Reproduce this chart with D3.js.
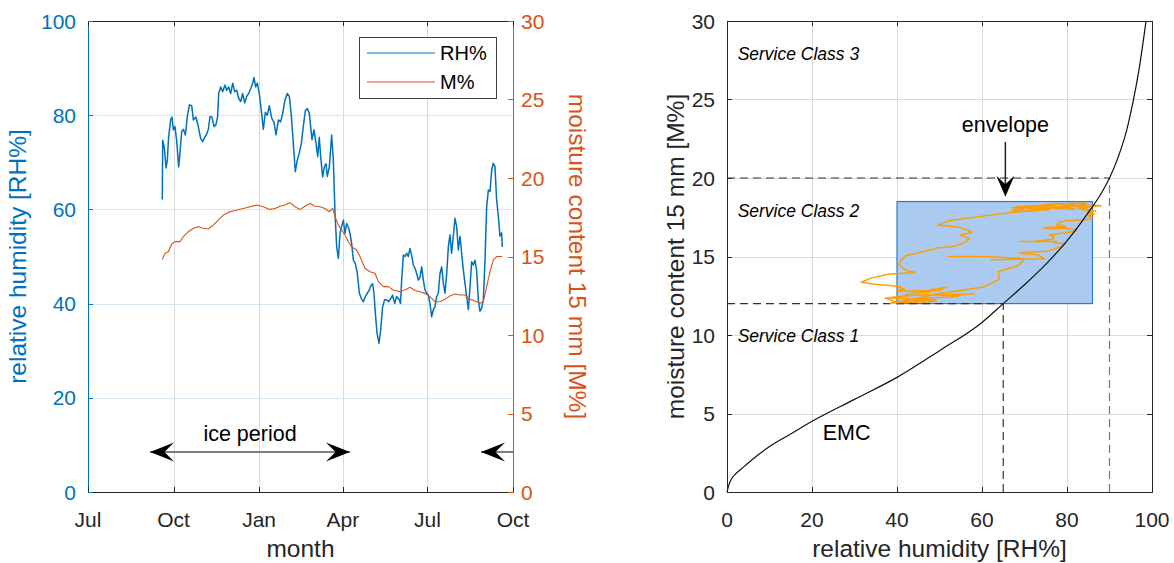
<!DOCTYPE html>
<html><head><meta charset="utf-8">
<script src="https://cdn.jsdelivr.net/npm/d3@7"></script>
<style>
body{margin:0;background:#fff}
svg{display:block}
text{font-family:"Liberation Sans",Arial,Helvetica,sans-serif}
</style>
</head><body>
<svg id="c" width="1174" height="563"></svg>
<script>
// ---------------- DATA ----------------
// days since 1 July (year 1)
const rhDay = [79.9,80.3,82.1,83.9,85.3,86.7,88.9,90.3,91.8,93.5,
95.3,97.5,98.9,100.7,102.5,104.7,106.8,109.0,111.5,113.3,
116.1,118.6,121.1,123.3,125.8,127.6,129.4,131.2,133.3,135.5,
137.6,139.4,140.5,142.7,144.8,147.3,149.1,151.3,153.4,155.6,
157.7,159.9,162.0,164.2,166.3,168.5,170.6,172.8,174.9,177.1,
178.5,180.3,182.1,184.2,186.7,188.5,190.7,192.8,195.0,197.5,
200.0,202.2,204.7,207.2,209.3,211.8,214.3,216.5,218.6,220.8,
222.9,225.1,227.2,229.4,231.5,233.7,235.8,238.0,239.4,240.9,
243.0,245.2,247.0,248.7,250.2,252.3,254.1,255.9,257.3,259.5,
262.0,263.8,265.6,267.4,269.2,271.0,272.8,274.6,276.3,278.1,
280.3,281.7,283.5,285.3,287.5,289.6,291.8,293.9,296.1,298.2,
300.4,302.5,304.3,306.1,307.5,309.0,310.8,312.9,314.7,316.8,
319.0,321.1,323.3,325.5,327.6,329.8,331.9,334.8,336.0,337.3,
339.1,340.9,342.7,344.4,346.2,348.0,349.8,351.6,353.4,355.2,
357.0,358.8,360.6,362.4,364.2,366.0,367.7,369.5,371.3,373.1,
374.9,376.7,378.5,380.3,382.1,383.9,385.7,387.5,389.2,391.0,
392.8,394.6,396.4,398.2,400.0,401.8,403.6,405.4,407.2,409.0,
410.8,412.5,414.3,416.1,417.9,419.7,421.5,423.3,425.1,426.9,
428.7,430.5,432.3,434.1,435.8,437.6,439.4,441.2,443.0,444.8,445.5];
const rhVal = [62.1,74.7,73.0,68.8,70.5,75.4,79.0,79.6,76.9,77.6,
74.7,69.0,72.0,76.5,77.0,75.8,79.7,82.2,82.0,79.0,
79.6,77.6,75.1,74.4,75.4,76.0,77.0,79.7,79.6,77.6,
78.0,79.7,84.6,86.0,85.0,86.4,85.3,86.0,84.6,86.8,
85.0,85.3,83.6,82.9,84.6,82.6,84.0,84.6,85.6,86.8,
88.0,86.0,86.8,84.6,80.4,77.0,80.6,80.0,82.0,79.4,
78.5,75.8,79.0,78.6,80.4,83.2,84.6,84.0,80.0,74.0,
68.0,70.5,72.0,74.0,77.6,81.0,81.4,80.4,77.6,74.8,
76.9,74.0,71.2,75.3,71.2,66.9,69.0,69.7,67.0,69.0,
75.8,70.5,59.2,52.1,49.6,54.9,56.5,57.7,54.9,57.0,
56.0,54.9,52.8,49.3,48.5,46.4,42.2,41.1,40.4,41.5,
42.2,42.9,43.9,44.2,42.2,37.9,33.7,31.6,34.4,39.3,
40.8,40.8,40.4,41.1,41.8,40.0,41.5,40.8,40.0,45.0,
50.3,50.0,50.7,50.0,51.7,50.3,48.2,47.5,46.4,45.0,
45.6,47.8,45.0,42.9,42.2,41.8,40.0,37.2,38.7,39.3,
41.5,42.2,46.4,47.8,44.3,42.2,46.4,52.1,54.6,50.7,
54.3,58.1,56.4,51.4,54.3,50.7,47.1,44.3,41.5,38.7,
43.6,48.9,48.2,49.2,47.1,40.8,38.4,39.0,40.8,49.2,
60.6,64.1,63.8,68.4,69.8,69.1,62.0,58.6,54.3,55.0,52.0];

const mDay = [79.9,82.8,86.4,90.0,93.5,98.9,102.5,107.9,113.3,118.6,
124.0,129.4,134.8,140.1,145.5,152.7,159.9,167.0,174.2,181.4,
188.5,195.7,201.1,206.5,211.8,217.2,222.6,228.0,233.3,238.7,
244.1,249.5,254.8,259.5,263.1,265.6,269.2,272.8,276.3,279.9,
283.5,288.9,292.5,297.8,303.2,308.6,312.2,317.6,322.9,328.3,
334.8,340.9,346.2,351.6,357.0,362.4,367.7,373.1,378.5,383.9,
389.2,394.6,400.0,405.4,410.8,416.1,421.5,425.1,428.7,432.3,
435.8,439.4,445.5];
const mVal = [14.8,15.2,15.3,15.8,15.95,15.95,16.26,16.58,16.8,16.9,
16.8,16.75,17.0,17.32,17.64,17.85,17.96,18.06,18.17,18.28,
18.17,18.0,18.06,18.2,18.28,18.43,18.17,18.0,18.2,18.38,
18.2,18.17,18.06,17.85,18.06,17.54,17.0,16.69,16.37,15.94,
15.62,15.4,14.99,14.25,14.03,13.93,13.4,13.08,13.08,12.87,
12.77,12.87,13.04,12.83,12.76,12.65,12.44,12.12,12.12,12.27,
12.49,12.61,12.55,12.55,12.27,12.17,12.02,12.12,13.08,14.03,
14.78,14.99,15.0];

// ice period arrows (days since 1 July) and height on RH axis
const iceStartDay = 66.7, iceEndDay = 281.7, iceNextDay = 422.6, iceArrowRH = 8.5;

// equilibrium moisture content curve
const emcRH = [0,0.5,1,2,3.5,5,7.5,10,15,20,30,40,50,60,65,70,75,80,85,88,90,92,94,95.5,97,98.6];
const emcM  = [0,0.5,0.8,1.15,1.5,1.85,2.4,2.9,3.7,4.5,5.9,7.3,9.0,10.8,12.0,13.2,14.5,16.0,17.8,19.0,20.0,21.3,23.0,24.8,27.0,30.0];

// envelope box and limits
const envRH = [40, 86], envM = [12, 18.5];
const sc1 = {rh:65, m:12}, sc2 = {rh:90, m:20};

const monthTickLabels = ["Jul","Oct","Jan","Apr","Jul","Oct"];
const rhTicks = [0,20,40,60,80,100];
const mTicks = [0,5,10,15,20,25,30];
const rhTicksR = [0,20,40,60,80,100];

// ---------------- DRAW ----------------
const svg = d3.select("#c");
const BLUE = "#0072BD", ORANGE = "#D95319", AX = "#262626";
const FS_TICK = 21, FS_LAB = 24.5;
const t0 = Date.UTC(2014,6,1);
const toDate = d => new Date(t0 + d*864e5);

// ---- Left chart
const L = {x0:88, x1:513, y0:21, y1:492};
const x1 = d3.scaleUtc().domain([new Date(t0), new Date(Date.UTC(2015,9,1))]).range([L.x0, L.x1]);
const yRH = d3.scaleLinear().domain([0,100]).range([L.y1, L.y0]);
const yM = d3.scaleLinear().domain([0,30]).range([L.y1, L.y0]);
const mTicks3 = x1.ticks(d3.utcMonth.every(3));
const gL = svg.append("g");

// grid
gL.selectAll(".vg").data(mTicks3.slice(1,-1)).enter().append("line")
  .attr("x1", d=>Math.round(x1(d))+0.5).attr("x2", d=>Math.round(x1(d))+0.5).attr("y1", L.y0).attr("y2", L.y1)
  .attr("stroke", "#dadada").attr("stroke-width", 1);
gL.selectAll(".hg").data(rhTicks.slice(1,-1)).enter().append("line")
  .attr("x1", L.x0).attr("x2", L.x1).attr("y1", d=>Math.round(yRH(d))+0.5).attr("y2", d=>Math.round(yRH(d))+0.5)
  .attr("stroke", "#d6e8f5").attr("stroke-width", 1);

// lines
const rhData = rhDay.map((d,i)=>({t:toDate(d), v:rhVal[i]}));
const mData = mDay.map((d,i)=>({t:toDate(d), v:mVal[i]}));
gL.append("path").datum(rhData)
  .attr("d", d3.line().x(d=>x1(d.t)).y(d=>yRH(d.v)))
  .attr("fill","none").attr("stroke", BLUE).attr("stroke-width", 1.5).attr("stroke-linejoin","round");
gL.append("path").datum(mData)
  .attr("d", d3.line().x(d=>x1(d.t)).y(d=>yM(d.v)))
  .attr("fill","none").attr("stroke", ORANGE).attr("stroke-width", 1.1).attr("stroke-linejoin","round");

// axes box
gL.append("line").attr("x1",L.x0).attr("x2",L.x1).attr("y1",L.y0+0.5).attr("y2",L.y0+0.5).attr("stroke",AX);
gL.append("line").attr("x1",L.x0).attr("x2",L.x1).attr("y1",L.y1+0.5).attr("y2",L.y1+0.5).attr("stroke",AX);
gL.append("line").attr("x1",L.x0+0.5).attr("x2",L.x0+0.5).attr("y1",L.y0).attr("y2",L.y1+1).attr("stroke",BLUE);
gL.append("line").attr("x1",L.x1+0.5).attr("x2",L.x1+0.5).attr("y1",L.y0).attr("y2",L.y1+1).attr("stroke",ORANGE);

// x ticks + labels
mTicks3.forEach((d,i)=>{
  const x = Math.round(x1(d))+0.5;
  gL.append("line").attr("x1",x).attr("x2",x).attr("y1",L.y1).attr("y2",L.y1-5).attr("stroke",AX);
  gL.append("line").attr("x1",x).attr("x2",x).attr("y1",L.y0).attr("y2",L.y0+5).attr("stroke",AX);
  gL.append("text").attr("x",x1(d)).attr("y",L.y1+35).attr("text-anchor","middle")
    .attr("font-size",FS_TICK).attr("fill",AX).text(monthTickLabels[i]);
});
// left ticks
rhTicks.forEach(v=>{
  const y = Math.round(yRH(v))+0.5;
  gL.append("line").attr("x1",L.x0).attr("x2",L.x0+5).attr("y1",y).attr("y2",y).attr("stroke",BLUE);
  gL.append("text").attr("x",L.x0-12).attr("y",yRH(v)).attr("dy","0.36em").attr("text-anchor","end")
    .attr("font-size",FS_TICK).attr("fill",BLUE).text(v);
});
// right ticks
mTicks.forEach(v=>{
  const y = Math.round(yM(v))+0.5;
  gL.append("line").attr("x1",L.x1).attr("x2",L.x1-5).attr("y1",y).attr("y2",y).attr("stroke",ORANGE);
  gL.append("text").attr("x",L.x1+8).attr("y",yM(v)).attr("dy","0.36em").attr("text-anchor","start")
    .attr("font-size",FS_TICK).attr("fill",ORANGE).text(v);
});
// axis labels
gL.append("text").attr("x",(L.x0+L.x1)/2).attr("y",557).attr("text-anchor","middle")
  .attr("font-size",FS_LAB).attr("fill",AX).text("month");
gL.append("text").attr("transform",`translate(26,${(L.y0+L.y1)/2}) rotate(-90)`).attr("text-anchor","middle")
  .attr("font-size",FS_LAB).attr("fill",BLUE).text("relative humidity [RH%]");
gL.append("text").attr("transform",`translate(569,${(L.y0+L.y1)/2}) rotate(90)`).attr("text-anchor","middle")
  .attr("font-size",FS_LAB).attr("fill",ORANGE).text("moisture content 15 mm [M%]");

// arrow helper: tip at (x,y), pointing along angle (deg)
function arrowHead(g, x, y, ang, Ln, w){
  g.append("path").attr("d",`M0,0 L${-Ln},${-w} L${-0.6*Ln},0 L${-Ln},${w} Z`)
   .attr("transform",`translate(${x},${y}) rotate(${ang})`).attr("fill","#000");
}
// ice period arrows
const ya = yRH(iceArrowRH);
gL.append("line").attr("x1",x1(toDate(iceStartDay))).attr("x2",x1(toDate(iceEndDay))).attr("y1",ya).attr("y2",ya)
  .attr("stroke","#555").attr("stroke-width",1.5);
arrowHead(gL, x1(toDate(iceStartDay)), ya, 180, 24, 9.5);
arrowHead(gL, x1(toDate(iceEndDay)), ya, 0, 24, 9.5);
gL.append("line").attr("x1",x1(toDate(iceNextDay))).attr("x2",L.x1).attr("y1",ya).attr("y2",ya)
  .attr("stroke","#555").attr("stroke-width",1.5);
arrowHead(gL, x1(toDate(iceNextDay)), ya, 180, 24, 9.5);
gL.append("text").attr("x",x1(toDate((iceStartDay+iceEndDay)/2))).attr("y",yRH(10.9)).attr("text-anchor","middle")
  .attr("font-size",21.5).attr("fill","#000").text("ice period");

// legend
const lg = gL.append("g");
lg.append("rect").attr("x",359.5).attr("y",37.5).attr("width",137).attr("height",61)
  .attr("fill","#fff").attr("stroke","#404040").attr("stroke-width",1);
[["RH%",BLUE,53],["M%",ORANGE,82]].forEach(([t,c,y])=>{
  lg.append("line").attr("x1",367).attr("x2",435).attr("y1",y).attr("y2",y).attr("stroke",c).attr("stroke-width",1.2);
  lg.append("text").attr("x",440).attr("y",y).attr("dy","0.36em").attr("font-size",20).attr("fill","#000").text(t);
});

// ---- Right chart
const R = {x0:727, x1:1152, y0:21, y1:492};
const xR = d3.scaleLinear().domain([0,100]).range([R.x0, R.x1]);
const yR = d3.scaleLinear().domain([0,30]).range([R.y1, R.y0]);
const gR = svg.append("g");
// grid
gR.selectAll(".vg").data(rhTicksR.slice(1,-1)).enter().append("line")
  .attr("x1",d=>Math.round(xR(d))+0.5).attr("x2",d=>Math.round(xR(d))+0.5).attr("y1",R.y0).attr("y2",R.y1)
  .attr("stroke","#dadada");
gR.selectAll(".hg").data(mTicks.slice(1,-1)).enter().append("line")
  .attr("x1",R.x0).attr("x2",R.x1).attr("y1",d=>Math.round(yR(d))+0.5).attr("y2",d=>Math.round(yR(d))+0.5)
  .attr("stroke","#dadada");
// envelope rect
gR.append("rect").attr("x",xR(envRH[0])).attr("y",yR(envM[1]))
  .attr("width",xR(envRH[1])-xR(envRH[0])).attr("height",yR(envM[0])-yR(envM[1]))
  .attr("fill","#aacbef").attr("stroke","#3179c9").attr("stroke-width",1.2);
// dashed limits
const dash = (xa,ya_,xb,yb,c)=>gR.append("line").attr("x1",xR(xa)).attr("y1",yR(ya_)).attr("x2",xR(xb)).attr("y2",yR(yb))
  .attr("stroke",c).attr("stroke-width",1.2).attr("stroke-dasharray","8,5");
dash(0,sc2.m,sc2.rh,sc2.m,"#333");
dash(sc2.rh,0,sc2.rh,sc2.m,"#777");
dash(0,sc1.m,sc1.rh,sc1.m,"#333");
dash(sc1.rh,0,sc1.rh,sc1.m,"#333");
// loop: RH vs moisture content at the same dates
const mAt = d3.scaleLinear().domain(mDay).range(mVal).clamp(true);
const loop = rhDay.map((d,i)=>[rhVal[i], mAt(d)]);
gR.append("path").datum(loop)
  .attr("d", d3.line().x(d=>xR(d[0])).y(d=>yR(d[1])))
  .attr("fill","none").attr("stroke","#ff9d00").attr("stroke-width",1.5).attr("stroke-linejoin","round");
// EMC curve
gR.append("path").datum(emcRH.map((r,i)=>[r,emcM[i]]))
  .attr("d", d3.line().curve(d3.curveMonotoneX).x(d=>xR(d[0])).y(d=>yR(d[1])))
  .attr("fill","none").attr("stroke","#111").attr("stroke-width",1.2);
// box
gR.append("rect").attr("x",R.x0+0.5).attr("y",R.y0+0.5).attr("width",R.x1-R.x0).attr("height",R.y1-R.y0)
  .attr("fill","none").attr("stroke",AX);
// ticks
rhTicksR.forEach(v=>{
  const x = Math.round(xR(v))+0.5;
  gR.append("line").attr("x1",x).attr("x2",x).attr("y1",R.y1).attr("y2",R.y1-5).attr("stroke",AX);
  gR.append("line").attr("x1",x).attr("x2",x).attr("y1",R.y0).attr("y2",R.y0+5).attr("stroke",AX);
  gR.append("text").attr("x",xR(v)).attr("y",R.y1+35).attr("text-anchor","middle")
    .attr("font-size",FS_TICK).attr("fill",AX).text(v);
});
mTicks.forEach(v=>{
  const y = Math.round(yR(v))+0.5;
  gR.append("line").attr("x1",R.x0).attr("x2",R.x0+5).attr("y1",y).attr("y2",y).attr("stroke",AX);
  gR.append("line").attr("x1",R.x1).attr("x2",R.x1-5).attr("y1",y).attr("y2",y).attr("stroke",AX);
  gR.append("text").attr("x",R.x0-12).attr("y",yR(v)).attr("dy","0.36em").attr("text-anchor","end")
    .attr("font-size",FS_TICK).attr("fill",AX).text(v);
});
gR.append("text").attr("x",(R.x0+R.x1)/2).attr("y",557).attr("text-anchor","middle")
  .attr("font-size",FS_LAB).attr("fill",AX).text("relative humidity [RH%]");
gR.append("text").attr("transform",`translate(684,${(R.y0+R.y1)/2}) rotate(-90)`).attr("text-anchor","middle")
  .attr("font-size",FS_LAB).attr("fill",AX).text("moisture content 15 mm [M%]");
// annotations
[["Service Class 3",27.5],["Service Class 2",17.5],["Service Class 1",9.55]].forEach(([t,m])=>{
  gR.append("text").attr("x",xR(2.5)).attr("y",yR(m)).attr("font-size",17.5).attr("font-style","italic")
    .attr("fill","#000").text(t);
});
gR.append("text").attr("x",xR(22.5)).attr("y",yR(3.3)).attr("font-size",21.5).attr("fill","#000").text("EMC");
gR.append("text").attr("x",xR(65.5)).attr("y",yR(22.9)).attr("text-anchor","middle").attr("font-size",21.5)
  .attr("fill","#000").text("envelope");
gR.append("line").attr("x1",xR(65.5)).attr("x2",xR(65.5)).attr("y1",yR(22.3)).attr("y2",yR(19.5))
  .attr("stroke","#222").attr("stroke-width",1.5);
arrowHead(gR, xR(65.5), yR(18.8), 90, 21, 9);
</script>
</body></html>
